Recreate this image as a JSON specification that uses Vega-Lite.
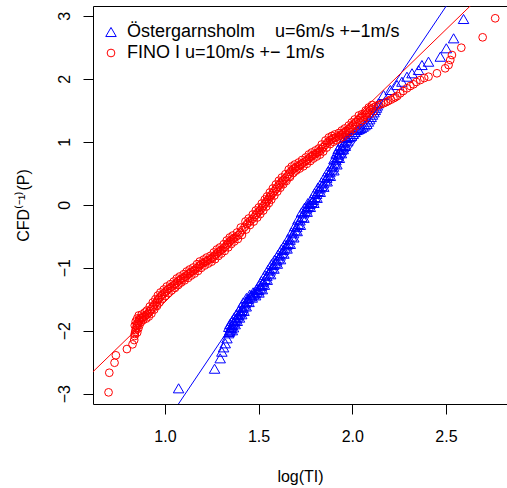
{
"$schema": "https://vega.github.io/schema/vega-lite/v6.json",
"width": 414, "height": 398,
"autosize": {"type": "none"},
"padding": {"left": 93, "top": 6, "right": 0, "bottom": 84},
"background": "white",
"config": {
  "view": {"stroke": "black", "strokeWidth": 1},
  "font": "Liberation Sans",
  "axis": {"grid": false, "domain": false, "tickColor": "black", "tickSize": 10, "labelColor": "black", "titleColor": "black", "labelFont": "Liberation Sans", "titleFont": "Liberation Sans", "labelFontSize": 16, "titleFontSize": 16, "titleFontWeight": "normal"}
},
"layer": [
{
"data": {"values": [
{"s":"A","x":1.073,"y":-2.914},{"s":"A","x":1.265,"y":-2.603},{"s":"A","x":1.295,"y":-2.438},{"s":"A","x":1.304,"y":-2.333},{"s":"A","x":1.313,"y":-2.264},{"s":"A","x":1.322,"y":-2.200},{"s":"A","x":1.331,"y":-2.121},{"s":"A","x":1.340,"y":-2.041},{"s":"A","x":1.343,"y":-2.020},{"s":"A","x":1.346,"y":-2.000},{"s":"A","x":1.349,"y":-1.978},{"s":"A","x":1.352,"y":-1.955},{"s":"A","x":1.355,"y":-1.932},{"s":"A","x":1.358,"y":-1.909},{"s":"A","x":1.364,"y":-1.883},{"s":"A","x":1.370,"y":-1.856},{"s":"A","x":1.375,"y":-1.830},{"s":"A","x":1.381,"y":-1.804},{"s":"A","x":1.387,"y":-1.777},{"s":"A","x":1.393,"y":-1.751},{"s":"A","x":1.399,"y":-1.724},{"s":"A","x":1.405,"y":-1.698},{"s":"A","x":1.411,"y":-1.671},{"s":"A","x":1.417,"y":-1.636},{"s":"A","x":1.423,"y":-1.600},{"s":"A","x":1.429,"y":-1.565},{"s":"A","x":1.438,"y":-1.530},{"s":"A","x":1.446,"y":-1.495},{"s":"A","x":1.455,"y":-1.460},{"s":"A","x":1.464,"y":-1.442},{"s":"A","x":1.473,"y":-1.424},{"s":"A","x":1.482,"y":-1.406},{"s":"A","x":1.491,"y":-1.380},{"s":"A","x":1.500,"y":-1.353},{"s":"A","x":1.509,"y":-1.327},{"s":"A","x":1.515,"y":-1.292},{"s":"A","x":1.520,"y":-1.257},{"s":"A","x":1.526,"y":-1.222},{"s":"A","x":1.535,"y":-1.178},{"s":"A","x":1.544,"y":-1.133},{"s":"A","x":1.553,"y":-1.089},{"s":"A","x":1.562,"y":-1.045},{"s":"A","x":1.571,"y":-1.001},{"s":"A","x":1.580,"y":-0.957},{"s":"A","x":1.589,"y":-0.922},{"s":"A","x":1.597,"y":-0.886},{"s":"A","x":1.606,"y":-0.851},{"s":"A","x":1.615,"y":-0.807},{"s":"A","x":1.624,"y":-0.763},{"s":"A","x":1.633,"y":-0.719},{"s":"A","x":1.641,"y":-0.682},{"s":"A","x":1.650,"y":-0.645},{"s":"A","x":1.658,"y":-0.608},{"s":"A","x":1.668,"y":-0.557},{"s":"A","x":1.677,"y":-0.505},{"s":"A","x":1.687,"y":-0.454},{"s":"A","x":1.695,"y":-0.405},{"s":"A","x":1.704,"y":-0.355},{"s":"A","x":1.712,"y":-0.306},{"s":"A","x":1.721,"y":-0.250},{"s":"A","x":1.731,"y":-0.193},{"s":"A","x":1.740,"y":-0.137},{"s":"A","x":1.748,"y":-0.098},{"s":"A","x":1.757,"y":-0.060},{"s":"A","x":1.765,"y":-0.021},{"s":"A","x":1.774,"y":0.011},{"s":"A","x":1.784,"y":0.043},{"s":"A","x":1.793,"y":0.075},{"s":"A","x":1.801,"y":0.123},{"s":"A","x":1.810,"y":0.170},{"s":"A","x":1.818,"y":0.218},{"s":"A","x":1.828,"y":0.259},{"s":"A","x":1.837,"y":0.299},{"s":"A","x":1.847,"y":0.340},{"s":"A","x":1.855,"y":0.384},{"s":"A","x":1.864,"y":0.427},{"s":"A","x":1.872,"y":0.471},{"s":"A","x":1.881,"y":0.515},{"s":"A","x":1.891,"y":0.559},{"s":"A","x":1.900,"y":0.603},{"s":"A","x":1.907,"y":0.654},{"s":"A","x":1.913,"y":0.706},{"s":"A","x":1.920,"y":0.757},{"s":"A","x":1.925,"y":0.794},{"s":"A","x":1.931,"y":0.831},{"s":"A","x":1.936,"y":0.868},{"s":"A","x":1.941,"y":0.895},{"s":"A","x":1.947,"y":0.921},{"s":"A","x":1.952,"y":0.948},{"s":"A","x":1.959,"y":0.985},{"s":"A","x":1.965,"y":1.022},{"s":"A","x":1.972,"y":1.059},{"s":"A","x":1.980,"y":1.070},{"s":"A","x":1.987,"y":1.080},{"s":"A","x":1.995,"y":1.091},{"s":"A","x":2.005,"y":1.123},{"s":"A","x":2.015,"y":1.154},{"s":"A","x":2.025,"y":1.186},{"s":"A","x":2.033,"y":1.196},{"s":"A","x":2.040,"y":1.207},{"s":"A","x":2.048,"y":1.217},{"s":"A","x":2.058,"y":1.238},{"s":"A","x":2.068,"y":1.260},{"s":"A","x":2.078,"y":1.281},{"s":"A","x":2.086,"y":1.318},{"s":"A","x":2.093,"y":1.355},{"s":"A","x":2.101,"y":1.392},{"s":"A","x":2.108,"y":1.429},{"s":"A","x":2.116,"y":1.466},{"s":"A","x":2.123,"y":1.503},{"s":"A","x":2.129,"y":1.539},{"s":"A","x":2.134,"y":1.574},{"s":"A","x":2.140,"y":1.610},{"s":"A","x":2.167,"y":1.741},{"s":"A","x":2.203,"y":1.821},{"s":"A","x":2.239,"y":1.900},{"s":"A","x":2.265,"y":1.952},{"s":"A","x":2.292,"y":2.032},{"s":"A","x":2.319,"y":2.086},{"s":"A","x":2.354,"y":2.138},{"s":"A","x":2.372,"y":2.217},{"s":"A","x":2.407,"y":2.270},{"s":"A","x":2.470,"y":2.349},{"s":"A","x":2.502,"y":2.483},{"s":"A","x":2.541,"y":2.641},{"s":"A","x":2.594,"y":2.948},
{"s":"A","x":1.360,"y":-1.993},{"s":"A","x":1.341,"y":-1.940},{"s":"A","x":1.366,"y":-1.947},{"s":"A","x":1.347,"y":-1.894},{"s":"A","x":1.375,"y":-1.898},{"s":"A","x":1.359,"y":-1.841},{"s":"A","x":1.386,"y":-1.845},{"s":"A","x":1.370,"y":-1.789},{"s":"A","x":1.398,"y":-1.792},{"s":"A","x":1.382,"y":-1.736},{"s":"A","x":1.410,"y":-1.739},{"s":"A","x":1.394,"y":-1.683},{"s":"A","x":1.422,"y":-1.686},{"s":"A","x":1.406,"y":-1.621},{"s":"A","x":1.434,"y":-1.615},{"s":"A","x":1.418,"y":-1.550},{"s":"A","x":1.449,"y":-1.545},{"s":"A","x":1.435,"y":-1.480},{"s":"A","x":1.466,"y":-1.475},{"s":"A","x":1.453,"y":-1.427},{"s":"A","x":1.484,"y":-1.439},{"s":"A","x":1.471,"y":-1.391},{"s":"A","x":1.502,"y":-1.395},{"s":"A","x":1.489,"y":-1.338},{"s":"A","x":1.520,"y":-1.342},{"s":"A","x":1.504,"y":-1.277},{"s":"A","x":1.531,"y":-1.272},{"s":"A","x":1.515,"y":-1.207},{"s":"A","x":1.546,"y":-1.193},{"s":"A","x":1.533,"y":-1.118},{"s":"A","x":1.564,"y":-1.104},{"s":"A","x":1.551,"y":-1.030},{"s":"A","x":1.582,"y":-1.016},{"s":"A","x":1.569,"y":-0.942},{"s":"A","x":1.600,"y":-0.937},{"s":"A","x":1.586,"y":-0.871},{"s":"A","x":1.617,"y":-0.866},{"s":"A","x":1.604,"y":-0.792},{"s":"A","x":1.635,"y":-0.778},{"s":"A","x":1.622,"y":-0.704},{"s":"A","x":1.652,"y":-0.697},{"s":"A","x":1.639,"y":-0.630},{"s":"A","x":1.669,"y":-0.623},{"s":"A","x":1.657,"y":-0.542},{"s":"A","x":1.688,"y":-0.520},{"s":"A","x":1.676,"y":-0.439},{"s":"A","x":1.706,"y":-0.420},{"s":"A","x":1.693,"y":-0.340},{"s":"A","x":1.723,"y":-0.321},{"s":"A","x":1.710,"y":-0.235},{"s":"A","x":1.742,"y":-0.208},{"s":"A","x":1.729,"y":-0.122},{"s":"A","x":1.759,"y":-0.113},{"s":"A","x":1.746,"y":-0.045},{"s":"A","x":1.776,"y":-0.036},{"s":"A","x":1.763,"y":0.026},{"s":"A","x":1.795,"y":0.028},{"s":"A","x":1.782,"y":0.090},{"s":"A","x":1.812,"y":0.108},{"s":"A","x":1.799,"y":0.185},{"s":"A","x":1.829,"y":0.203},{"s":"A","x":1.817,"y":0.274},{"s":"A","x":1.848,"y":0.284},{"s":"A","x":1.836,"y":0.355},{"s":"A","x":1.866,"y":0.369},{"s":"A","x":1.853,"y":0.442},{"s":"A","x":1.883,"y":0.456},{"s":"A","x":1.870,"y":0.530},{"s":"A","x":1.902,"y":0.544},{"s":"A","x":1.889,"y":0.618},{"s":"A","x":1.918,"y":0.639},{"s":"A","x":1.902,"y":0.721},{"s":"A","x":1.931,"y":0.742},{"s":"A","x":1.914,"y":0.809},{"s":"A","x":1.942,"y":0.816},{"s":"A","x":1.925,"y":0.883},{"s":"A","x":1.952,"y":0.880},{"s":"A","x":1.936,"y":0.936},{"s":"A","x":1.963,"y":0.933},{"s":"A","x":1.948,"y":1.000},{"s":"A","x":1.976,"y":1.007},{"s":"A","x":1.961,"y":1.074},
{"s":"B","x":0.699,"y":-2.978},{"s":"B","x":0.703,"y":-2.667},{"s":"B","x":0.731,"y":-2.508},{"s":"B","x":0.738,"y":-2.390},{"s":"B","x":0.797,"y":-2.291},{"s":"B","x":0.827,"y":-2.216},{"s":"B","x":0.836,"y":-2.148},{"s":"B","x":0.838,"y":-2.084},{"s":"B","x":0.839,"y":-2.052},{"s":"B","x":0.841,"y":-2.021},{"s":"B","x":0.844,"y":-1.989},{"s":"B","x":0.847,"y":-1.957},{"s":"B","x":0.850,"y":-1.925},{"s":"B","x":0.852,"y":-1.894},{"s":"B","x":0.856,"y":-1.870},{"s":"B","x":0.860,"y":-1.846},{"s":"B","x":0.864,"y":-1.822},{"s":"B","x":0.868,"y":-1.798},{"s":"B","x":0.876,"y":-1.790},{"s":"B","x":0.884,"y":-1.783},{"s":"B","x":0.892,"y":-1.767},{"s":"B","x":0.900,"y":-1.751},{"s":"B","x":0.906,"y":-1.735},{"s":"B","x":0.912,"y":-1.719},{"s":"B","x":0.920,"y":-1.688},{"s":"B","x":0.927,"y":-1.656},{"s":"B","x":0.935,"y":-1.624},{"s":"B","x":0.943,"y":-1.592},{"s":"B","x":0.950,"y":-1.566},{"s":"B","x":0.957,"y":-1.540},{"s":"B","x":0.963,"y":-1.510},{"s":"B","x":0.970,"y":-1.481},{"s":"B","x":0.977,"y":-1.457},{"s":"B","x":0.984,"y":-1.433},{"s":"B","x":0.993,"y":-1.410},{"s":"B","x":1.002,"y":-1.386},{"s":"B","x":1.010,"y":-1.362},{"s":"B","x":1.018,"y":-1.338},{"s":"B","x":1.027,"y":-1.320},{"s":"B","x":1.037,"y":-1.302},{"s":"B","x":1.046,"y":-1.280},{"s":"B","x":1.055,"y":-1.259},{"s":"B","x":1.063,"y":-1.235},{"s":"B","x":1.071,"y":-1.211},{"s":"B","x":1.079,"y":-1.195},{"s":"B","x":1.087,"y":-1.179},{"s":"B","x":1.097,"y":-1.161},{"s":"B","x":1.108,"y":-1.143},{"s":"B","x":1.116,"y":-1.121},{"s":"B","x":1.124,"y":-1.100},{"s":"B","x":1.132,"y":-1.084},{"s":"B","x":1.140,"y":-1.068},{"s":"B","x":1.150,"y":-1.052},{"s":"B","x":1.159,"y":-1.037},{"s":"B","x":1.169,"y":-1.010},{"s":"B","x":1.179,"y":-0.984},{"s":"B","x":1.186,"y":-0.962},{"s":"B","x":1.194,"y":-0.941},{"s":"B","x":1.204,"y":-0.925},{"s":"B","x":1.215,"y":-0.910},{"s":"B","x":1.223,"y":-0.894},{"s":"B","x":1.231,"y":-0.878},{"s":"B","x":1.241,"y":-0.864},{"s":"B","x":1.251,"y":-0.851},{"s":"B","x":1.260,"y":-0.824},{"s":"B","x":1.269,"y":-0.798},{"s":"B","x":1.277,"y":-0.774},{"s":"B","x":1.285,"y":-0.751},{"s":"B","x":1.293,"y":-0.735},{"s":"B","x":1.301,"y":-0.719},{"s":"B","x":1.311,"y":-0.693},{"s":"B","x":1.322,"y":-0.667},{"s":"B","x":1.330,"y":-0.637},{"s":"B","x":1.338,"y":-0.608},{"s":"B","x":1.346,"y":-0.584},{"s":"B","x":1.354,"y":-0.560},{"s":"B","x":1.362,"y":-0.544},{"s":"B","x":1.370,"y":-0.529},{"s":"B","x":1.381,"y":-0.505},{"s":"B","x":1.393,"y":-0.481},{"s":"B","x":1.403,"y":-0.441},{"s":"B","x":1.413,"y":-0.402},{"s":"B","x":1.425,"y":-0.354},{"s":"B","x":1.438,"y":-0.306},{"s":"B","x":1.446,"y":-0.282},{"s":"B","x":1.455,"y":-0.259},{"s":"B","x":1.466,"y":-0.227},{"s":"B","x":1.477,"y":-0.195},{"s":"B","x":1.485,"y":-0.163},{"s":"B","x":1.493,"y":-0.132},{"s":"B","x":1.501,"y":-0.108},{"s":"B","x":1.509,"y":-0.084},{"s":"B","x":1.517,"y":-0.052},{"s":"B","x":1.525,"y":-0.021},{"s":"B","x":1.533,"y":0.011},{"s":"B","x":1.541,"y":0.043},{"s":"B","x":1.547,"y":0.067},{"s":"B","x":1.553,"y":0.091},{"s":"B","x":1.560,"y":0.122},{"s":"B","x":1.568,"y":0.154},{"s":"B","x":1.576,"y":0.186},{"s":"B","x":1.584,"y":0.218},{"s":"B","x":1.592,"y":0.249},{"s":"B","x":1.600,"y":0.281},{"s":"B","x":1.608,"y":0.310},{"s":"B","x":1.616,"y":0.340},{"s":"B","x":1.624,"y":0.366},{"s":"B","x":1.632,"y":0.392},{"s":"B","x":1.641,"y":0.418},{"s":"B","x":1.651,"y":0.444},{"s":"B","x":1.660,"y":0.481},{"s":"B","x":1.669,"y":0.519},{"s":"B","x":1.677,"y":0.543},{"s":"B","x":1.685,"y":0.567},{"s":"B","x":1.693,"y":0.582},{"s":"B","x":1.701,"y":0.598},{"s":"B","x":1.711,"y":0.614},{"s":"B","x":1.722,"y":0.630},{"s":"B","x":1.731,"y":0.650},{"s":"B","x":1.740,"y":0.670},{"s":"B","x":1.750,"y":0.690},{"s":"B","x":1.760,"y":0.710},{"s":"B","x":1.768,"y":0.733},{"s":"B","x":1.776,"y":0.757},{"s":"B","x":1.784,"y":0.773},{"s":"B","x":1.792,"y":0.789},{"s":"B","x":1.802,"y":0.805},{"s":"B","x":1.812,"y":0.821},{"s":"B","x":1.820,"y":0.836},{"s":"B","x":1.829,"y":0.852},{"s":"B","x":1.837,"y":0.884},{"s":"B","x":1.845,"y":0.916},{"s":"B","x":1.855,"y":0.947},{"s":"B","x":1.865,"y":0.979},{"s":"B","x":1.874,"y":1.003},{"s":"B","x":1.883,"y":1.027},{"s":"B","x":1.891,"y":1.039},{"s":"B","x":1.899,"y":1.051},{"s":"B","x":1.907,"y":1.063},{"s":"B","x":1.915,"y":1.075},{"s":"B","x":1.925,"y":1.086},{"s":"B","x":1.936,"y":1.098},{"s":"B","x":1.944,"y":1.118},{"s":"B","x":1.952,"y":1.138},{"s":"B","x":1.960,"y":1.154},{"s":"B","x":1.968,"y":1.170},{"s":"B","x":1.978,"y":1.193},{"s":"B","x":1.989,"y":1.217},{"s":"B","x":1.997,"y":1.241},{"s":"B","x":2.005,"y":1.265},{"s":"B","x":2.013,"y":1.289},{"s":"B","x":2.021,"y":1.313},{"s":"B","x":2.032,"y":1.344},{"s":"B","x":2.043,"y":1.376},{"s":"B","x":2.051,"y":1.386},{"s":"B","x":2.060,"y":1.397},{"s":"B","x":2.070,"y":1.426},{"s":"B","x":2.080,"y":1.456},{"s":"B","x":2.088,"y":1.479},{"s":"B","x":2.096,"y":1.503},{"s":"B","x":2.105,"y":1.523},{"s":"B","x":2.114,"y":1.543},{"s":"B","x":2.126,"y":1.563},{"s":"B","x":2.139,"y":1.583},{"s":"B","x":2.153,"y":1.596},{"s":"B","x":2.167,"y":1.610},{"s":"B","x":2.180,"y":1.628},{"s":"B","x":2.192,"y":1.646},{"s":"B","x":2.206,"y":1.667},{"s":"B","x":2.220,"y":1.689},{"s":"B","x":2.230,"y":1.707},{"s":"B","x":2.240,"y":1.725},{"s":"B","x":2.256,"y":1.768},{"s":"B","x":2.272,"y":1.805},{"s":"B","x":2.292,"y":1.848},{"s":"B","x":2.310,"y":1.884},{"s":"B","x":2.327,"y":1.911},{"s":"B","x":2.342,"y":1.948},{"s":"B","x":2.363,"y":1.979},{"s":"B","x":2.384,"y":2.011},{"s":"B","x":2.407,"y":2.032},{"s":"B","x":2.452,"y":2.086},{"s":"B","x":2.496,"y":2.165},{"s":"B","x":2.514,"y":2.217},{"s":"B","x":2.523,"y":2.297},{"s":"B","x":2.532,"y":2.376},{"s":"B","x":2.582,"y":2.492},{"s":"B","x":2.696,"y":2.657},{"s":"B","x":2.763,"y":2.959},
{"s":"B","x":0.852,"y":-2.029},{"s":"B","x":0.839,"y":-1.917},{"s":"B","x":0.858,"y":-1.965},{"s":"B","x":0.844,"y":-1.854},{"s":"B","x":0.864,"y":-1.910},{"s":"B","x":0.852,"y":-1.806},{"s":"B","x":0.872,"y":-1.862},{"s":"B","x":0.860,"y":-1.758},{"s":"B","x":0.884,"y":-1.830},{"s":"B","x":0.876,"y":-1.743},{"s":"B","x":0.900,"y":-1.807},{"s":"B","x":0.892,"y":-1.711},{"s":"B","x":0.914,"y":-1.775},{"s":"B","x":0.904,"y":-1.679},{"s":"B","x":0.928,"y":-1.728},{"s":"B","x":0.919,"y":-1.616},{"s":"B","x":0.943,"y":-1.664},{"s":"B","x":0.935,"y":-1.552},{"s":"B","x":0.958,"y":-1.606},{"s":"B","x":0.949,"y":-1.500},{"s":"B","x":0.971,"y":-1.550},{"s":"B","x":0.962,"y":-1.441},{"s":"B","x":0.985,"y":-1.497},{"s":"B","x":0.976,"y":-1.393},{"s":"B","x":1.001,"y":-1.450},{"s":"B","x":0.994,"y":-1.346},{"s":"B","x":1.018,"y":-1.402},{"s":"B","x":1.010,"y":-1.298},{"s":"B","x":1.035,"y":-1.360},{"s":"B","x":1.029,"y":-1.262},{"s":"B","x":1.054,"y":-1.320},{"s":"B","x":1.047,"y":-1.219},{"s":"B","x":1.071,"y":-1.275},{"s":"B","x":1.063,"y":-1.171},{"s":"B","x":1.087,"y":-1.235},{"s":"B","x":1.079,"y":-1.139},{"s":"B","x":1.105,"y":-1.201},{"s":"B","x":1.100,"y":-1.103},{"s":"B","x":1.124,"y":-1.161},{"s":"B","x":1.116,"y":-1.060},{"s":"B","x":1.140,"y":-1.124},{"s":"B","x":1.132,"y":-1.028},{"s":"B","x":1.158,"y":-1.092},{"s":"B","x":1.151,"y":-0.997},{"s":"B","x":1.177,"y":-1.050},{"s":"B","x":1.171,"y":-0.944},{"s":"B","x":1.194,"y":-1.002},{"s":"B","x":1.186,"y":-0.901},{"s":"B","x":1.212,"y":-0.965},{"s":"B","x":1.207,"y":-0.870},{"s":"B","x":1.231,"y":-0.934},{"s":"B","x":1.223,"y":-0.838},{"s":"B","x":1.249,"y":-0.904},{"s":"B","x":1.243,"y":-0.811},{"s":"B","x":1.268,"y":-0.864},{"s":"B","x":1.261,"y":-0.758},{"s":"B","x":1.285,"y":-0.814},{"s":"B","x":1.277,"y":-0.711},{"s":"B","x":1.301,"y":-0.775},{"s":"B","x":1.293,"y":-0.679},{"s":"B","x":1.319,"y":-0.733},{"s":"B","x":1.314,"y":-0.627},{"s":"B","x":1.338,"y":-0.677},{"s":"B","x":1.330,"y":-0.568},{"s":"B","x":1.354,"y":-0.624},{"s":"B","x":1.346,"y":-0.520},{"s":"B","x":1.370,"y":-0.584},{"s":"B","x":1.362,"y":-0.489},{"s":"B","x":1.389,"y":-0.545},{"s":"B","x":1.385,"y":-0.441},{"s":"B","x":1.411,"y":-0.481},{"s":"B","x":1.405,"y":-0.362},{"s":"B","x":1.433,"y":-0.394},{"s":"B","x":1.430,"y":-0.266},{"s":"B","x":1.454,"y":-0.322},{"s":"B","x":1.447,"y":-0.219},{"s":"B","x":1.474,"y":-0.267},{"s":"B","x":1.469,"y":-0.155},{"s":"B","x":1.493,"y":-0.203},{"s":"B","x":1.485,"y":-0.092},{"s":"B","x":1.509,"y":-0.148},{"s":"B","x":1.501,"y":-0.044},{"s":"B","x":1.525,"y":-0.092},{"s":"B","x":1.517,"y":0.019},{"s":"B","x":1.541,"y":-0.029},{"s":"B","x":1.533,"y":0.083},{"s":"B","x":1.555,"y":0.027},{"s":"B","x":1.545,"y":0.131},{"s":"B","x":1.568,"y":0.082},{"s":"B","x":1.560,"y":0.194},{"s":"B","x":1.584,"y":0.146},{"s":"B","x":1.576,"y":0.258},{"s":"B","x":1.600,"y":0.209},{"s":"B","x":1.592,"y":0.321},{"s":"B","x":1.616,"y":0.270},{"s":"B","x":1.608,"y":0.380},{"s":"B","x":1.632,"y":0.326},{"s":"B","x":1.624,"y":0.432},{"s":"B","x":1.649,"y":0.378},{"s":"B","x":1.643,"y":0.484},{"s":"B","x":1.668,"y":0.441},{"s":"B","x":1.661,"y":0.559},{"s":"B","x":1.685,"y":0.503},{"s":"B","x":1.677,"y":0.607},{"s":"B","x":1.701,"y":0.542},{"s":"B","x":1.693,"y":0.638},{"s":"B","x":1.719,"y":0.574},{"s":"B","x":1.714,"y":0.670},{"s":"B","x":1.739,"y":0.610},{"s":"B","x":1.732,"y":0.710},{"s":"B","x":1.758,"y":0.650},{"s":"B","x":1.752,"y":0.750},{"s":"B","x":1.776,"y":0.693},{"s":"B","x":1.768,"y":0.797},{"s":"B","x":1.792,"y":0.733},{"s":"B","x":1.784,"y":0.829},{"s":"B","x":1.810,"y":0.765},{"s":"B","x":1.804,"y":0.861},{"s":"B","x":1.828,"y":0.796},{"s":"B","x":1.821,"y":0.892},{"s":"B","x":1.845,"y":0.844},{"s":"B","x":1.837,"y":0.956},{"s":"B","x":1.863,"y":0.907},{"s":"B","x":1.857,"y":1.019},{"s":"B","x":1.882,"y":0.963},{"s":"B","x":1.875,"y":1.067},{"s":"B","x":1.899,"y":0.999},{"s":"B","x":1.891,"y":1.091},{"s":"B","x":1.915,"y":1.023},{"s":"B","x":1.907,"y":1.115},{"s":"B","x":1.933,"y":1.046},{"s":"B","x":1.928,"y":1.138},{"s":"B","x":1.952,"y":1.078},{"s":"B","x":1.944,"y":1.178},{"s":"B","x":1.968,"y":1.114},{"s":"B","x":1.960,"y":1.210},{"s":"B","x":1.986,"y":1.153},{"s":"B","x":1.981,"y":1.257},{"s":"B","x":2.005,"y":1.201},{"s":"B","x":1.997,"y":1.305},{"s":"B","x":2.021,"y":1.249},{"s":"B","x":2.013,"y":1.353},{"s":"B","x":2.040,"y":1.304},{"s":"B","x":2.035,"y":1.416},{"s":"B","x":2.059,"y":1.346},{"s":"B","x":2.052,"y":1.437},{"s":"B","x":2.078,"y":1.386},{"s":"B","x":2.072,"y":1.496},{"s":"B","x":2.096,"y":1.439},{"s":"B","x":2.088,"y":1.543},{"s":"B","x":2.113,"y":1.483},{"s":"B","x":2.106,"y":1.583}
]},
"mark": {"type": "point", "filled": false, "opacity": 1, "strokeWidth": 1},
"encoding": {
  "x": {"field": "x", "type": "quantitative", "scale": {"domain": [0.616, 2.826], "nice": false, "zero": false},
        "axis": {"values": [1, 1.5, 2, 2.5], "format": ".1f", "title": "log(TI)", "labelPadding": 14, "titleY": 72, "titleBaseline": "middle"}},
  "y": {"field": "y", "type": "quantitative", "scale": {"domain": [-3.163, 3.154], "nice": false, "zero": false},
        "axis": {"values": [-3, -2, -1, 0, 1, 2, 3], "format": "d", "labelAngle": -90, "labelAlign": "center", "labelBaseline": "alphabetic", "labelPadding": 14, "title": "CFD⁽⁻¹⁾(P)", "titleX": -65, "titleY": 199, "titleAngle": -90, "titleBaseline": "alphabetic", "titleAlign": "center"}},
  "color": {"field": "s", "type": "nominal", "scale": {"domain": ["A", "B"], "range": ["#0000FF", "#FF0000"]},
            "legend": {"orient": "none", "legendX": 9, "legendY": 17, "title": null, "labelFontSize": 18, "labelFont": "Liberation Sans", "labelColor": "black", "labelLimit": 0, "rowPadding": 3, "labelOffset": 7, "symbolStrokeWidth": 1,
                       "labelExpr": "datum.value == 'A' ? 'Östergarnsholm\u00a0\u00a0\u00a0 u=6m/s +−1m/s' : 'FINO I u=10m/s +− 1m/s'"}},
  "shape": {"field": "s", "type": "nominal", "scale": {"domain": ["A", "B"], "range": ["triangle-up", "circle"]}},
  "size": {"field": "s", "type": "nominal", "scale": {"domain": ["A", "B"], "range": [110, 60]}}
}
},
{
"data": {"values": [{"x": 1.0, "y": -3.481}, {"x": 2.6, "y": 3.588}]},
"mark": {"type": "line", "color": "#0000FF", "strokeWidth": 1, "clip": true},
"encoding": {"x": {"field": "x", "type": "quantitative"}, "y": {"field": "y", "type": "quantitative"}}
},
{
"data": {"values": [{"x": 0.5, "y": -2.985}, {"x": 2.7, "y": 3.357}]},
"mark": {"type": "line", "color": "#FF0000", "strokeWidth": 1, "clip": true},
"encoding": {"x": {"field": "x", "type": "quantitative"}, "y": {"field": "y", "type": "quantitative"}}
}
]
}
